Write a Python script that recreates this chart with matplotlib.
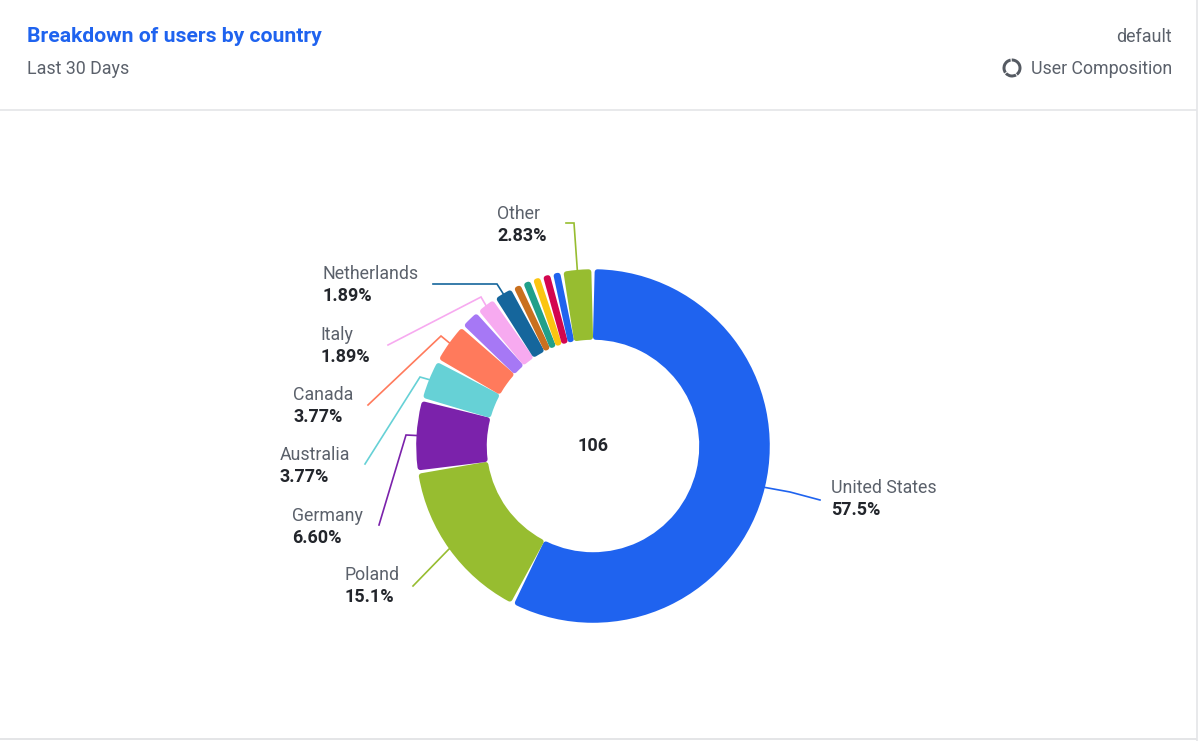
import numpy as np
import matplotlib
matplotlib.use('Agg')
import matplotlib.pyplot as plt
from matplotlib.patches import Wedge

countries = ['United States', 'Poland', 'Germany', 'Australia', 'Canada', '', 'Italy',
             'Netherlands', '', '', '', '', '', 'Other']
shares = [57.5, 15.1, 6.60, 3.77, 3.77, 1.89, 1.89, 1.89, 0.94, 0.94, 0.94, 0.94, 0.94, 2.83]
share_labels = ['57.5%', '15.1%', '6.60%', '3.77%', '3.77%', '', '1.89%', '1.89%',
                '', '', '', '', '', '2.83%']
colors = ['#1f63ef', '#97bd30', '#7b22ab', '#66d1d6', '#ff7a5c', '#a678f5', '#f7aaf0',
          '#15669c', '#c9701f', '#20a08a', '#fbc511', '#d3064f', '#1f63ef', '#97bd30']
total = 106

# label text position (left x, y of name, y of share) and leader points after the slice edge
label_pos = {0: (831, 488, 510), 1: (344, 575, 597), 2: (292, 516, 538), 3: (280, 455, 477),
             4: (293, 395, 417), 6: (320, 335, 357), 7: (322, 274, 296), 13: (497, 214, 236)}
leaders = {0: [(790, 492), (820, 500)], 1: [(449, 549), (413, 586)],
           2: [(406, 435), (379, 525)], 3: [(420, 377), (365, 464)],
           4: [(441, 336), (368, 405)], 6: [(481, 297), (388, 345)],
           7: [(497, 284), (433, 284)], 13: [(574, 223), (566, 223)]}

W, H = 1200, 741
plt.rcParams['font.family'] = ['Roboto', 'DejaVu Sans']
fig = plt.figure(figsize=(12, 7.41), dpi=100)
ax = fig.add_axes([0, 0, 1, 1])


def flip(y):
    return H - y


cx, cy = 593, flip(446)
R, r = 177, 106
wedges, _ = ax.pie(shares, colors=colors, startangle=90, counterclock=False,
                   center=(cx, cy), radius=R, wedgeprops={'width': R - r})
ax.set_xlim(0, W)
ax.set_ylim(0, H)
ax.set_aspect('equal')
ax.axis('off')

# rounded slice corners: shrink each wedge and stroke it in its own colour
for w, c in zip(wedges, colors):
    w.set_theta1(w.theta1 + 1.45)
    w.set_theta2(w.theta2 - 1.45)
    w.set_radius(R - 3)
    w.set_width(R - r - 6)
    w.set_edgecolor(c)
    w.set_linewidth(4)
    w.set_joinstyle('round')

for i, (xt, y1, y2) in label_pos.items():
    w = wedges[i]
    mid = np.deg2rad((w.theta1 + w.theta2) / 2)
    start = (cx + (R - 1) * np.cos(mid), cy + (R - 1) * np.sin(mid))
    pts = [start] + [(x, flip(y)) for x, y in leaders[i]]
    ax.plot([p[0] for p in pts], [p[1] for p in pts], color=colors[i], lw=1.2,
            solid_joinstyle='miter', zorder=1)
    ax.text(xt, flip(y1), countries[i], fontsize=12.8, color='#5b616b', va='center', ha='left')
    ax.text(xt, flip(y2), share_labels[i], fontsize=13, color='#22252b', fontweight='bold',
            va='center', ha='left')

ax.text(cx, cy, str(total), fontsize=13, color='#22252b', fontweight='bold',
        ha='center', va='center')

# card header
ax.text(27, flip(37), 'Breakdown of users by country', fontsize=15.2, color='#1f63ef',
        fontweight='bold', va='center', ha='left')
ax.text(27, flip(69), 'Last 30 Days', fontsize=12.9, color='#5b616b', va='center', ha='left')
ax.text(1172, flip(37), 'default', fontsize=12.9, color='#5b616b', va='center', ha='right')
ax.text(1172, flip(69), 'User Composition', fontsize=12.8, color='#5b616b', va='center', ha='right')

# small ring icon next to the chart type
for a1, a2 in [(100, 215), (222, 300), (307, 360), (0, 92)]:
    ax.add_patch(Wedge((1012, flip(68)), 9.5, a1, a2, width=3, color='#555a62', lw=0))

ax.plot([0, 1196], [flip(110), flip(110)], color='#e4e5e8', lw=1.2)
ax.plot([0, 1196], [flip(738.5), flip(738.5)], color='#dfe0e3', lw=1.2)
ax.plot([1196.5, 1196.5], [flip(0), flip(741)], color='#e4e5e8', lw=1.2)

fig.savefig('out.png', dpi=100, facecolor='white')
